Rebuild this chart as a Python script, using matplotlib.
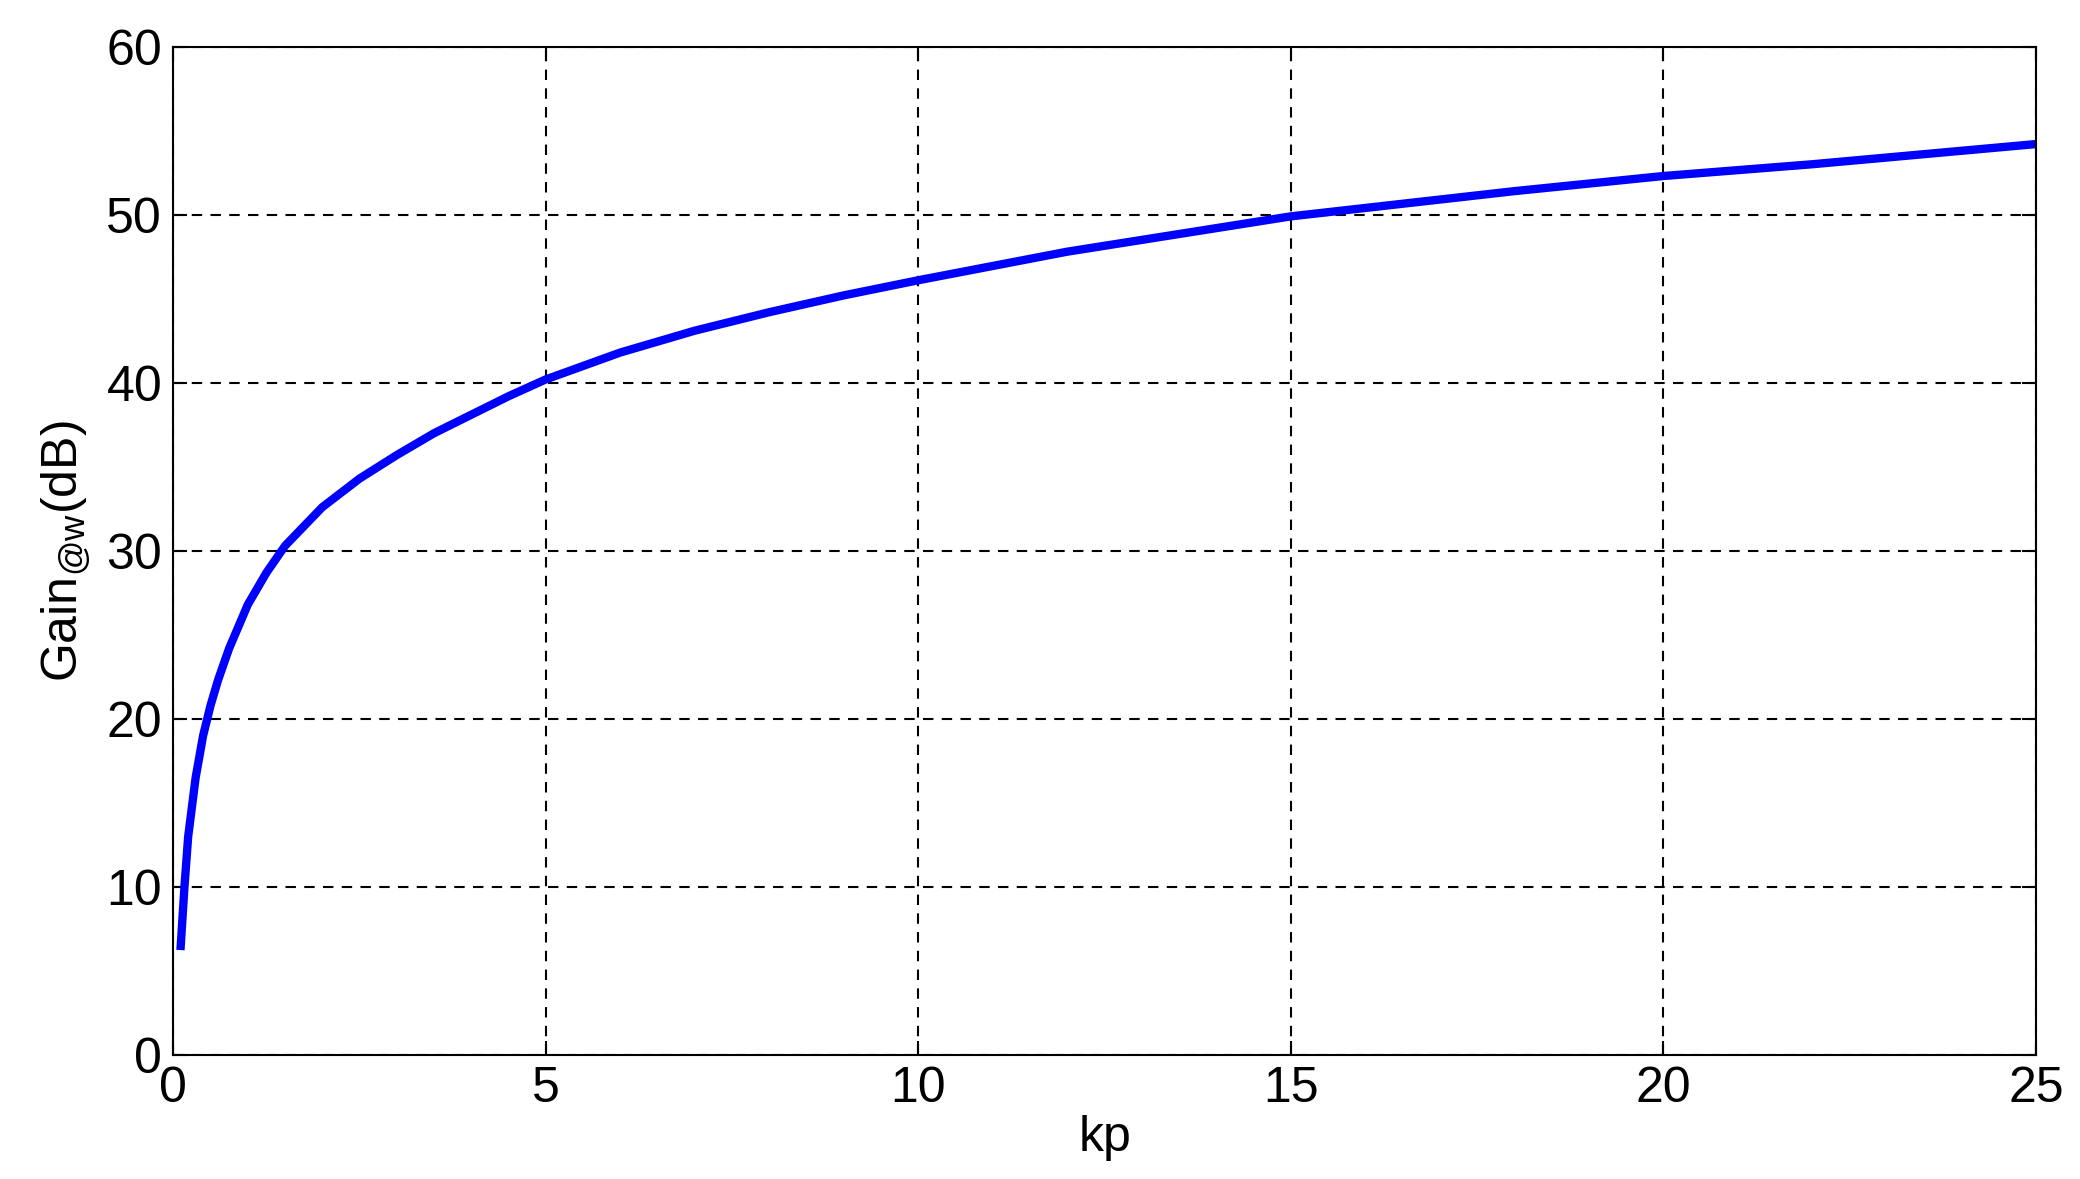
import matplotlib
matplotlib.use("Agg")
import matplotlib.pyplot as plt

# values
kp = [0.1, 0.15, 0.2, 0.3, 0.4, 0.5, 0.6, 0.75, 1.0, 1.25, 1.5, 2.0, 2.5, 3.0,
      3.5, 4.0, 4.5, 5.0, 6.0, 7.0, 8.0, 9.0, 10.0, 12.0, 14.0, 15.0, 16.0,
      18.0, 20.0, 22.0, 25.0]
gain_db = [6.5, 10.0, 13.0, 16.5, 19.0, 20.8, 22.3, 24.2, 26.8, 28.7, 30.3,
           32.6, 34.3, 35.7, 37.0, 38.1, 39.2, 40.2, 41.8, 43.1, 44.2, 45.2,
           46.1, 47.8, 49.2, 49.9, 50.4, 51.4, 52.3, 53.0, 54.2]

plt.rcParams['font.family'] = ['Liberation Sans', 'DejaVu Sans']

fig = plt.figure(figsize=(20.8, 11.79), dpi=100)
ax = fig.add_axes([0.0833, 0.105, 0.8955, 0.8555])
ax.plot(kp, gain_db, color='#0000ff', linewidth=6)

ax.set_xlim(0, 25)
ax.set_ylim(0, 60)
ax.set_xticks(range(0, 26, 5))
ax.set_yticks(range(0, 61, 10))
ax.grid(True, color='black', linestyle=(0, (5, 4)), linewidth=1.5)
ax.tick_params(direction='in', top=True, right=True, labelsize=36, length=10, width=1.5, pad=8)
for s in ax.spines.values():
    s.set_linewidth(1.5)
ax.set_xlabel('kp', fontsize=36, labelpad=2)
ax.set_ylabel('Gain$_{\\mathregular{@w}}$(dB)', fontsize=36, labelpad=10)

fig.savefig('out.png', dpi=100)
